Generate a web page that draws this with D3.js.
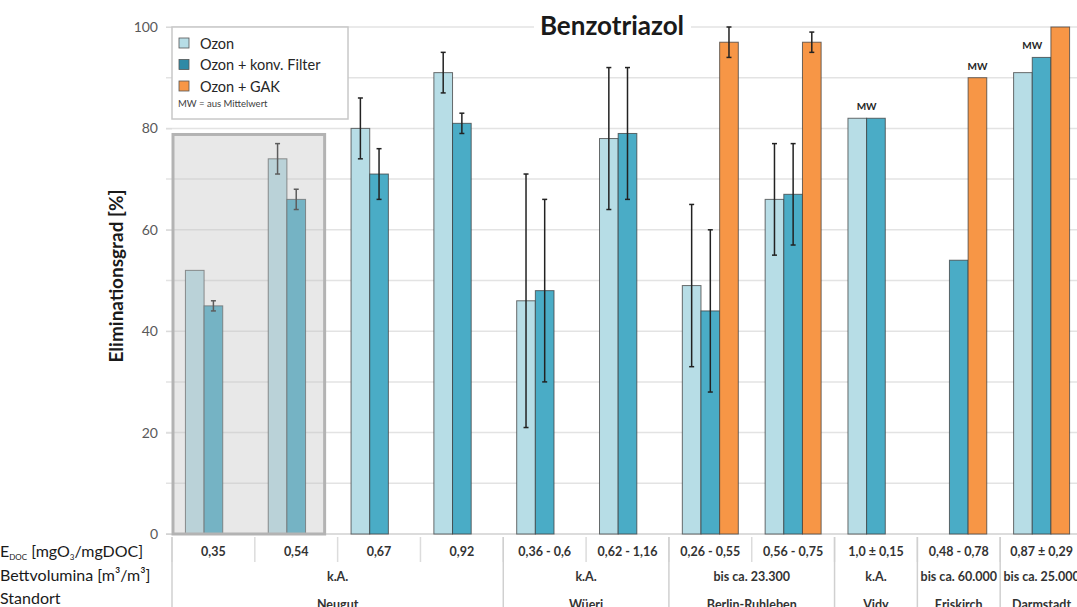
<!DOCTYPE html>
<html>
<head>
<meta charset="utf-8">
<script src="https://cdn.jsdelivr.net/npm/d3@7"></script>
<style>
  body { margin: 0; background: #fff; }
  svg { font-family: Lato, "Liberation Sans", sans-serif; }
</style>
</head>
<body>
<svg id="chart" width="1077" height="607"></svg>
<script>
var edoc = ["0,35", "0,54", "0,67", "0,92", "0,36 - 0,6", "0,62 - 1,16", "0,26 - 0,55", "0,56 - 0,75", "1,0 ± 0,15", "0,48 - 0,78", "0,87 ± 0,29"];
var series = ["Ozon", "Ozon + konv. Filter", "Ozon + GAK"];

var ozon     = [52, 74, 80, 91, 46, 78, 49, 66, 82, null, 91];
var ozonLo   = [null, 71, 74, 87, 21, 64, 33, 55, null, null, null];
var ozonHi   = [null, 77, 86, 95, 71, 92, 65, 77, null, null, null];
var konv     = [45, 66, 71, 81, 48, 79, 44, 67, 82, 54, 94];
var konvLo   = [44, 64, 66, 79, 30, 66, 28, 57, null, null, null];
var konvHi   = [46, 68, 76, 83, 66, 92, 60, 77, null, null, null];
var gak      = [null, null, null, null, null, null, 97, 97, null, 90, 100];
var gakLo    = [null, null, null, null, null, null, 94, 95, null, null, null];
var gakHi    = [null, null, null, null, null, null, 100, 99, null, null, null];

// MW marks: [category index, series position above which it sits]
var mwMarks = [[8, 0.5], [9, 2], [10, 0.5]];

var standort = ["Neugut", "Wüeri", "Berlin-Ruhleben", "Vidy", "Eriskirch", "Darmstadt"];
var bettvol  = ["k.A.", "k.A.", "bis ca. 23.300", "k.A.", "bis ca. 60.000", "bis ca. 25.000"];
var spans    = [4, 2, 2, 1, 1, 1];

var yTicks = [0, 20, 40, 60, 80, 100];

var colors = ["#b7dde6", "#4aacc6", "#f79646"];
var swatch = ["#b7dde6", "#2f8aa6", "#f79646"];

var svg = d3.select("#chart");

var x0 = d3.scaleBand()
    .domain(d3.range(edoc.length))
    .range([172, 1083]);

var bw = x0.bandwidth();
var x1 = d3.scaleBand()
    .domain(d3.range(series.length))
    .range([bw * 0.162, bw * 0.838]);

var y = d3.scaleLinear()
    .domain([0, 100])
    .range([534, 27]);

// gridlines every 10
svg.append("g")
    .selectAll("line")
    .data(d3.range(10, 101, 10))
    .enter().append("line")
    .attr("x1", 166).attr("x2", 1077)
    .attr("y1", function(d) { return y(d); })
    .attr("y2", function(d) { return y(d); })
    .attr("stroke", "#e3e3e3")
    .attr("stroke-width", 1.5);

// y axis
var yAxis = d3.axisLeft(y).tickValues(yTicks).tickSize(6).tickPadding(8);
var gy = svg.append("g")
    .attr("transform", "translate(172,0)")
    .call(yAxis);
gy.select(".domain").remove();
gy.selectAll(".tick line").attr("stroke", "#d9d9d9");
gy.selectAll(".tick text")
    .attr("fill", "#595959")
    .style("font-size", "14px")
    .style("font-family", "Lato, sans-serif");

// baseline
svg.append("line")
    .attr("x1", 166).attr("x2", 1077)
    .attr("y1", y(0)).attr("y2", y(0))
    .attr("stroke", "#d0d0d0").attr("stroke-width", 1.5);

// title with white background
var title = svg.append("g");
title.append("rect")
    .attr("x", 534).attr("y", 10).attr("width", 157).attr("height", 32)
    .attr("fill", "#fff");
title.append("text")
    .attr("x", 612).attr("y", 35)
    .attr("text-anchor", "middle")
    .style("font-size", "26px")
    .style("font-weight", "bold")
    .attr("fill", "#1a1a1a")
    .text("Benzotriazol");

// y axis title
svg.append("text")
    .attr("transform", "translate(123,276) rotate(-90)")
    .attr("text-anchor", "middle")
    .style("font-size", "19px")
    .style("font-weight", "bold")
    .attr("fill", "#1a1a1a")
    .text("Eliminationsgrad [%]");

// bars
var values = [ozon, konv, gak];
var lows = [ozonLo, konvLo, gakLo];
var highs = [ozonHi, konvHi, gakHi];

var barData = [];
edoc.forEach(function(c, i) {
    series.forEach(function(s, j) {
        if (values[j][i] != null) {
            barData.push({ c: i, s: j, v: values[j][i], lo: lows[j][i], hi: highs[j][i] });
        }
    });
});

svg.append("g")
    .selectAll("rect")
    .data(barData)
    .enter().append("rect")
    .attr("x", function(d) { return x0(d.c) + x1(d.s); })
    .attr("y", function(d) { return y(d.v); })
    .attr("width", x1.bandwidth())
    .attr("height", function(d) { return y(0) - y(d.v); })
    .attr("fill", function(d) { return colors[d.s]; })
    .attr("stroke", "#3d3d3d")
    .attr("stroke-opacity", 0.75)
    .attr("stroke-width", 1);

// error bars
var eb = svg.append("g")
    .selectAll("g")
    .data(barData.filter(function(d) { return d.lo != null; }))
    .enter().append("g")
    .attr("transform", function(d) { return "translate(" + (x0(d.c) + x1(d.s) + x1.bandwidth() / 2) + ",0)"; });

eb.append("line")
    .attr("y1", function(d) { return y(d.lo); })
    .attr("y2", function(d) { return y(d.hi); })
    .attr("stroke", "#222").attr("stroke-width", 1.5);
eb.selectAll(".cap")
    .data(function(d) { return [d.lo, d.hi]; })
    .enter().append("line")
    .attr("x1", -2.5).attr("x2", 2.5)
    .attr("y1", function(v) { return y(v); })
    .attr("y2", function(v) { return y(v); })
    .attr("stroke", "#222").attr("stroke-width", 1.5);

// gray overlay box on first two groups
svg.append("rect")
    .attr("x", x0(0) + 1)
    .attr("y", y(78.8))
    .attr("width", x0(2) - x0(0) - 14)
    .attr("height", y(0) - y(78.8))
    .attr("fill", "rgb(193,193,193)")
    .attr("fill-opacity", 0.37)
    .attr("stroke", "#b3b3b3")
    .attr("stroke-width", 3);

// MW labels
svg.append("g")
    .selectAll("text")
    .data(mwMarks)
    .enter().append("text")
    .attr("x", function(d) { return x0(d[0]) + x1(0) + x1.bandwidth() * (d[1] + 0.5); })
    .attr("y", function(d) {
        var top = d3.max(values, function(v, j) { return Math.abs(j - d[1]) <= 0.5 ? v[d[0]] : null; });
        return y(top) - 8;
    })
    .attr("text-anchor", "middle")
    .style("font-size", "10px")
    .style("font-weight", "bold")
    .attr("fill", "#262626")
    .text("MW");

// legend
var legend = svg.append("g");
legend.append("rect")
    .attr("x", 172).attr("y", 27).attr("width", 176).attr("height", 92)
    .attr("fill", "#fff")
    .attr("stroke", "#c8c8c8").attr("stroke-width", 1.5);
var li = legend.selectAll(".item")
    .data(series)
    .enter().append("g")
    .attr("transform", function(d, i) { return "translate(179," + (43 + i * 21.5) + ")"; });
li.append("rect")
    .attr("x", 0).attr("y", -5).attr("width", 10).attr("height", 10)
    .attr("fill", function(d, i) { return swatch[i]; })
    .attr("stroke", "#555").attr("stroke-width", 0.8);
li.append("text")
    .attr("x", 21).attr("y", 5.5)
    .style("font-size", "14.5px")
    .attr("fill", "#262626")
    .text(function(d) { return d; });
legend.append("text")
    .attr("x", 178).attr("y", 107)
    .style("font-size", "9.5px")
    .attr("fill", "#404040")
    .text("MW = aus Mittelwert");

// table below chart
var table = svg.append("g");
var rowY = [556, 581, 609];

var lab = table.append("g").attr("fill", "#1a1a1a").style("font-size", "16px");
var t1 = lab.append("text").attr("x", 0).attr("y", 557);
t1.append("tspan").text("E");
t1.append("tspan").attr("dy", 3).style("font-size", "8px").text("DOC");
t1.append("tspan").attr("dy", -3).text(" [mgO");
t1.append("tspan").attr("dy", 3).style("font-size", "8px").text("3");
t1.append("tspan").attr("dy", -3).text("/mgDOC]");
lab.append("text").attr("x", 0).attr("y", 581).text("Bettvolumina [m³/m³]");
lab.append("text").attr("x", 0).attr("y", 604).text("Standort");

// E_DOC row
table.append("g")
    .selectAll("text")
    .data(edoc)
    .enter().append("text")
    .attr("x", function(d, i) { return x0(i) + bw / 2; })
    .attr("y", rowY[0])
    .attr("text-anchor", "middle")
    .style("font-size", "12.5px")
    .style("font-weight", "bold")
    .attr("fill", "#333")
    .text(function(d) { return d; });

// short separators between all columns
table.append("g")
    .selectAll("line")
    .data(d3.range(edoc.length + 1))
    .enter().append("line")
    .attr("x1", function(i) { return i < edoc.length ? x0(i) : x0(i - 1) + bw; })
    .attr("x2", function(i) { return i < edoc.length ? x0(i) : x0(i - 1) + bw; })
    .attr("y1", 537).attr("y2", 562)
    .attr("stroke", "#dcdcdc").attr("stroke-width", 1.5);

// group spans
var starts = [];
spans.reduce(function(acc, n) { starts.push(acc); return acc + n; }, 0);

table.append("g")
    .selectAll("line")
    .data(starts.concat([edoc.length]))
    .enter().append("line")
    .attr("x1", function(s) { return x0.range()[0] + s * x0.step(); })
    .attr("x2", function(s) { return x0.range()[0] + s * x0.step(); })
    .attr("y1", 537).attr("y2", 607)
    .attr("stroke", "#d0d0d0").attr("stroke-width", 1.5);

table.append("g")
    .selectAll("text")
    .data(bettvol)
    .enter().append("text")
    .attr("x", function(d, i) { return x0.range()[0] + (starts[i] + spans[i] / 2) * x0.step(); })
    .attr("y", rowY[1])
    .attr("text-anchor", "middle")
    .style("font-size", "12.5px")
    .style("font-weight", "bold")
    .attr("fill", "#333")
    .text(function(d) { return d; });

table.append("g")
    .selectAll("text")
    .data(standort)
    .enter().append("text")
    .attr("x", function(d, i) { return x0.range()[0] + (starts[i] + spans[i] / 2) * x0.step(); })
    .attr("y", rowY[2])
    .attr("text-anchor", "middle")
    .style("font-size", "12.5px")
    .style("font-weight", "bold")
    .attr("fill", "#333")
    .text(function(d) { return d; });
</script>
</body>
</html>
